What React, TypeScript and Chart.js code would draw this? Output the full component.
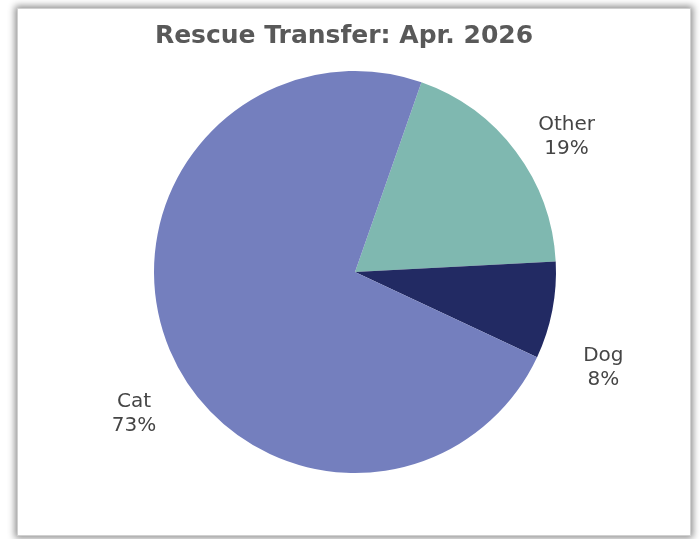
import React, { useEffect, useRef } from "react";
import { Chart, registerables } from "chart.js";

Chart.register(...registerables);

const title = "Rescue Transfer: Apr. 2026";
const categories = ["Other", "Dog", "Cat"];
const values = [18.8, 7.8, 73.4];
const colors = ["#7FB8B0", "#222A63", "#747FBE"];
const labelAngleShift = [3.6, 9.4, -9.3];
const labelGap = [52, 64, 60];

const FONT = "'DejaVu Sans', sans-serif";

const labelPlugin = {
  id: "customLabels",
  afterDatasetsDraw(chart: any) {
    const ctx = chart.ctx;
    const meta = chart.getDatasetMeta(0);
    const total = values.reduce((a, b) => a + b, 0);
    ctx.save();
    ctx.fillStyle = "#454545";
    ctx.font = `20px ${FONT}`;
    ctx.textAlign = "center";
    ctx.textBaseline = "alphabetic";
    meta.data.forEach((arc: any, i: number) => {
      const p = arc.getProps(["x", "y", "startAngle", "endAngle", "outerRadius"], true);
      const mid = (p.startAngle + p.endAngle) / 2 + (labelAngleShift[i] * Math.PI) / 180;
      const d = p.outerRadius + labelGap[i];
      const cx = p.x + Math.cos(mid) * d;
      const cy = p.y + Math.sin(mid) * d;
      const pct = Math.round((values[i] / total) * 100) + "%";
      ctx.fillText(categories[i], cx, cy - 3.5);
      ctx.fillText(pct, cx, cy + 20.5);
    });
    ctx.fillStyle = "#595959";
    ctx.font = `bold 25px ${FONT}`;
    ctx.fillText(title, 344, 43);
    ctx.restore();
  },
};

export default function App() {
  const ref = useRef<HTMLCanvasElement>(null);
  useEffect(() => {
    if (!ref.current) return;
    const chart = new Chart(ref.current, {
      type: "pie",
      data: {
        labels: categories,
        datasets: [
          {
            data: values,
            backgroundColor: colors,
            borderWidth: 0,
          },
        ],
      },
      options: {
        responsive: false,
        animation: false,
        rotation: 19.3,
        layout: { padding: { left: 154, right: 144, top: 71, bottom: 66 } },
        plugins: {
          legend: { display: false },
          tooltip: { enabled: false },
          title: { display: false },
        },
      },
      plugins: [labelPlugin],
    });
    return () => chart.destroy();
  }, []);

  return (
    <div style={{ position: "fixed", left: 0, top: 0, width: 700, height: 539, background: "#fff", overflow: "hidden" }}>
      <div
        style={{
          position: "absolute",
          left: 17,
          top: 8,
          width: 672,
          height: 526,
          border: "1px solid #d0d0d0",
          boxShadow: "0 0 7px 2px rgba(0,0,0,0.45)",
          background: "#fff",
        }}
      />
      <canvas ref={ref} width={700} height={539} style={{ position: "absolute", left: 0, top: 0 }} />
    </div>
  );
}
